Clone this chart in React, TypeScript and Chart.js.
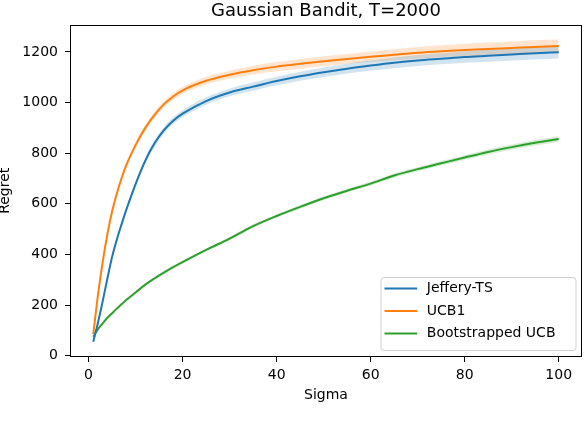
import { useEffect, useRef } from "react"
import { Chart, registerables } from "chart.js"

Chart.register(...registerables)

const chartTitle = "Gaussian Bandit, T=2000"
const xLabel = "Sigma"
const yLabel = "Regret"
const seriesNames = ["Jeffery-TS", "UCB1", "Bootstrapped UCB"]
const seriesColors = ["#1f77b4", "#ff7f0e", "#2ca02c"]
const bandColors = ["rgba(31, 119, 180, 0.2)", "rgba(255, 127, 14, 0.2)", "rgba(44, 160, 44, 0.2)"]

// values
const sigma = [1, 2, 3, 4, 5, 6, 7, 8, 10, 12, 14, 16, 18, 20, 25, 30, 35, 40, 45, 50, 55, 60, 65, 70, 75, 80, 85, 90, 95, 100]
const jefferyTS = [55, 130, 215, 305, 390, 458, 518, 575, 678, 768, 838, 890, 928, 956, 1006, 1040, 1063, 1085, 1104, 1120, 1134, 1146, 1157, 1166, 1173, 1180, 1185, 1190, 1195, 1199]
const ucb1 = [85, 240, 370, 480, 570, 640, 700, 752, 832, 898, 950, 993, 1024, 1048, 1086, 1110, 1128, 1142, 1153, 1163, 1172, 1181, 1189, 1197, 1203, 1208, 1212, 1216, 1220, 1223]
const bootstrappedUCB = [75, 105, 128, 150, 168, 186, 203, 220, 250, 280, 305, 328, 350, 370, 418, 463, 512, 552, 588, 622, 652, 680, 712, 737, 760, 783, 805, 824, 841, 856]

// half-width of the shaded bands
const jefferyBand = [2, 4, 6, 7, 8, 9, 10, 10, 11, 12, 13, 13, 14, 14, 15, 15, 16, 17, 18, 19, 19, 20, 21, 22, 22, 23, 24, 24, 25, 25]
const ucb1Band = [2, 4, 6, 7, 8, 9, 10, 10, 11, 12, 13, 13, 14, 14, 15, 16, 17, 18, 19, 20, 20, 21, 22, 23, 23, 24, 25, 25, 26, 26]
const bootstrappedBand = [1, 2, 2, 3, 3, 3, 3, 4, 4, 4, 4, 5, 5, 5, 5, 6, 6, 6, 7, 7, 7, 8, 8, 8, 9, 9, 10, 10, 11, 11]

const xTicks = [0, 20, 40, 60, 80, 100]
const yTicks = [0, 200, 400, 600, 800, 1000, 1200]

const FONT = "DejaVu Sans"

function seriesDatasets(i: number, values: number[], band: number[]) {
  const pts = (sign: number) => sigma.map((x, k) => ({ x, y: values[k] + sign * band[k] }))
  const common = { pointRadius: 0, cubicInterpolationMode: "monotone" as const }
  return [
    { ...common, label: "", data: pts(-1), borderWidth: 0, borderColor: "transparent", fill: false, order: 1 },
    { ...common, label: "", data: pts(1), borderWidth: 0, borderColor: "transparent", backgroundColor: bandColors[i], fill: "-1", order: 1 },
    { ...common, label: seriesNames[i], data: pts(0), borderWidth: 2, borderColor: seriesColors[i], fill: false, order: 0 },
  ]
}

// axes box (all four spines)
const framePlugin = {
  id: "frame",
  afterDatasetsDraw(chart: Chart) {
    const { ctx, chartArea: a } = chart
    ctx.save()
    ctx.strokeStyle = "#000"
    ctx.lineWidth = 1
    const l = Math.round(a.left) + 0.5
    const t = Math.round(a.top) + 0.5
    const r = Math.round(a.right) - 0.5
    const b = Math.round(a.bottom) - 0.5
    ctx.strokeRect(l, t, r - l, b - t)
    ctx.restore()
  },
}

// matplotlib style legend, lower right inside the axes
const legendPlugin = {
  id: "mplLegend",
  afterDraw(chart: Chart) {
    const { ctx, chartArea: a } = chart
    const w = 195
    const h = 73
    const right = a.right - 6.5
    const bottom = a.bottom - 7
    const left = right - w
    const top = bottom - h
    ctx.save()
    ctx.beginPath()
    ctx.roundRect(left + 0.5, top + 0.5, w, h, 3)
    ctx.fillStyle = "rgba(255, 255, 255, 0.8)"
    ctx.fill()
    ctx.strokeStyle = "#d0d0d0"
    ctx.lineWidth = 1
    ctx.stroke()
    ctx.font = `14px "${FONT}"`
    ctx.textBaseline = "middle"
    ctx.textAlign = "left"
    seriesNames.forEach((name, k) => {
      const y = top + 11.6 + k * 22.5
      ctx.beginPath()
      ctx.moveTo(left + 4, y)
      ctx.lineTo(left + 36.7, y)
      ctx.strokeStyle = seriesColors[k]
      ctx.lineWidth = 2
      ctx.stroke()
      ctx.fillStyle = "#000"
      ctx.fillText(name, left + 46.3, y)
    })
    ctx.restore()
  },
}

export default function App() {
  const chartRef = useRef<HTMLCanvasElement>(null)
  const chartInstance = useRef<Chart | null>(null)

  useEffect(() => {
    document.body.style.margin = "0"
    if (!chartRef.current) return
    if (chartInstance.current) chartInstance.current.destroy()
    const ctx = chartRef.current.getContext("2d")
    if (!ctx) return

    const tickFont = { family: FONT, size: 14 }

    chartInstance.current = new Chart(ctx, {
      type: "line",
      data: {
        datasets: [
          ...seriesDatasets(0, jefferyTS, jefferyBand),
          ...seriesDatasets(1, ucb1, ucb1Band),
          ...seriesDatasets(2, bootstrappedUCB, bootstrappedBand),
        ] as any,
      },
      options: {
        responsive: false,
        animation: false,
        layout: { padding: { left: 0, right: 4, top: 0, bottom: 0 } },
        plugins: {
          legend: { display: false },
          tooltip: { enabled: false },
          title: {
            display: true,
            text: chartTitle,
            fullSize: false,
            color: "#000",
            font: { family: FONT, size: 18, weight: "normal" },
            padding: { top: 1, bottom: 2 },
          },
        },
        scales: {
          x: {
            type: "linear",
            min: -3.95,
            max: 104.95,
            afterBuildTicks: (axis: any) => {
              axis.ticks = xTicks.map((v) => ({ value: v }))
            },
            afterFit: (axis: any) => {
              axis.height = 83
            },
            grid: { drawOnChartArea: false, drawTicks: true, tickLength: 5, color: "#000", lineWidth: 1 },
            border: { display: false },
            ticks: { font: tickFont, color: "#000", padding: 5, maxRotation: 0, autoSkip: false, callback: (v: any) => String(v) },
            title: {
              display: true,
              text: xLabel,
              color: "#000",
              font: { family: FONT, size: 14 },
              padding: { top: 0, bottom: 36 },
            },
          },
          y: {
            type: "linear",
            min: -5,
            max: 1308,
            afterBuildTicks: (axis: any) => {
              axis.ticks = yTicks.map((v) => ({ value: v }))
            },
            afterFit: (axis: any) => {
              axis.width = 70
            },
            grid: { drawOnChartArea: false, drawTicks: true, tickLength: 5, color: "#000", lineWidth: 1 },
            border: { display: false },
            ticks: { font: tickFont, color: "#000", padding: 7, autoSkip: false, callback: (v: any) => String(v) },
            title: {
              display: true,
              text: yLabel,
              color: "#000",
              font: { family: FONT, size: 14, lineHeight: 0.8 },
              padding: { top: 0, bottom: 0 },
            },
          },
        },
      },
      plugins: [framePlugin, legendPlugin],
    })

    return () => {
      if (chartInstance.current) {
        chartInstance.current.destroy()
        chartInstance.current = null
      }
    }
  }, [])

  return (
    <div style={{ width: 586, height: 440 }}>
      <canvas ref={chartRef} width={586} height={440}></canvas>
    </div>
  )
}
